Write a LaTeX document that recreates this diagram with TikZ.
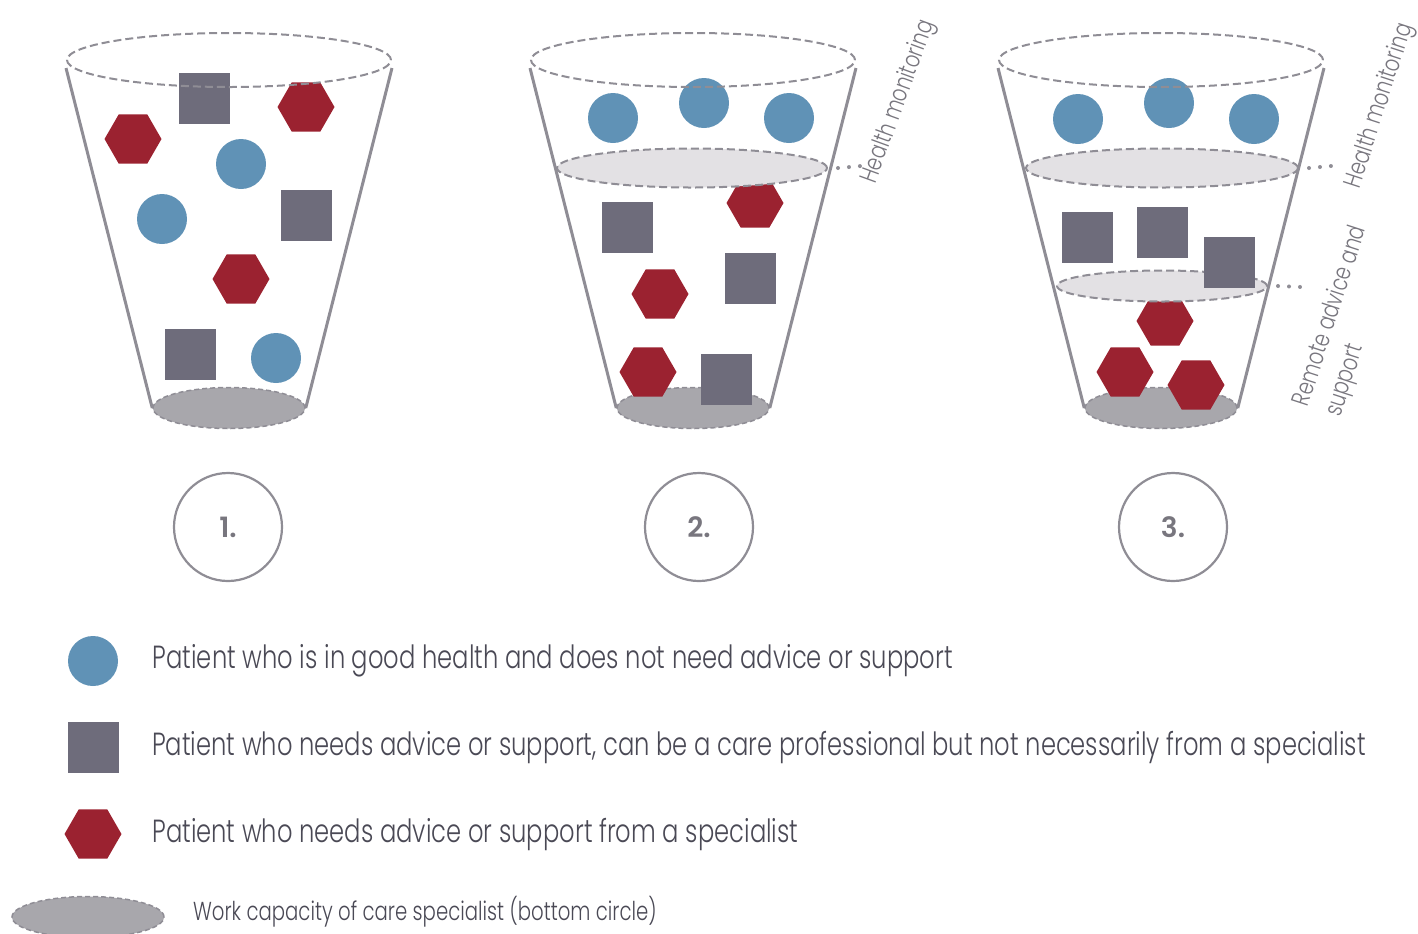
\documentclass[tikz,border=0pt]{standalone}
\usepackage{fontspec}
\setmainfont{Poppins Light}
\newfontfamily\numfont{Poppins SemiBold}
\usetikzlibrary{
  shapes.geometric,
  positioning,
  calc}
\definecolor{healthycolor}{RGB}{96,146,182}
\definecolor{advicecolor}{RGB}{110,108,123}
\definecolor{specialistcolor}{RGB}{155,34,48}
\definecolor{linecolor}{RGB}{143,141,149}
\definecolor{capacitycolor}{RGB}{168,167,172}
\definecolor{levelcolor}{RGB}{227,225,228}
\definecolor{textcolor}{RGB}{74,73,85}
\definecolor{labelcolor}{RGB}{120,118,126}
\newcommand{\squeeze}[1]{\scalebox{0.757}[1]{#1}}
\newcommand{\narrowlabel}[1]{\scalebox{0.77}[1]{#1}}
\tikzset{
  %% healthy : patient in good health
  healthy/.style={
    circle,
    fill=healthycolor,
    minimum size=25pt,
    inner sep=0pt
  },
  %% advice : patient who needs advice or support
  advice/.style={
    rectangle,
    fill=advicecolor,
    minimum size=25.5pt,
    inner sep=0pt
  },
  %% specialist : patient who needs a specialist
  specialist/.style={
    regular polygon,
    regular polygon sides=6,
    fill=specialistcolor,
    minimum size=28.5pt,
    inner sep=0pt
  },
  %% rim : open top of a cup
  rim/.style={
    ellipse,
    draw=linecolor,
    line width=1pt,
    dash pattern=on 4pt off 2pt,
    minimum width=162pt,
    minimum height=27pt,
    inner sep=0pt
  },
  %% level : level of care inside a cup
  level/.style={
    ellipse,
    fill=levelcolor,
    draw=linecolor,
    line width=1pt,
    dash pattern=on 4pt off 2pt,
    minimum height=19.5pt,
    inner sep=0pt
  },
  %% capacity : work capacity of the specialist (bottom circle)
  capacity/.style={
    ellipse,
    fill=capacitycolor,
    draw=linecolor,
    line width=0.75pt,
    dash pattern=on 2.5pt off 1.5pt,
    minimum width=76pt,
    minimum height=20.5pt,
    inner sep=0pt
  },
  %% side : wall of a cup
  side/.style={linecolor, line width=1.5pt},
  %% leader : dotted line to a level label
  leader/.style={linecolor, line width=2pt, line cap=round,
    dash pattern=on 0pt off 5.5pt},
  %% numcircle : number below a cup
  numcircle/.style={
    circle,
    draw=linecolor,
    line width=1.1pt,
    minimum size=54pt,
    text=labelcolor,
    font=\numfont\fontsize{14}{16}\selectfont
  },
  %% levellabel : rotated name of a level
  levellabel/.style={
    text=labelcolor,
    font=\fontsize{12.5}{17}\selectfont,
    inner sep=0pt,
    align=left
  },
  %% legendtext : text of the legend
  legendtext/.style={
    anchor=west,
    inner sep=0pt,
    text=textcolor,
    font=\fontsize{16}{19}\selectfont
  }
}

\begin{document}
\begin{tikzpicture}
  [x=0.5pt,
  y=-0.5pt]

  \useasboundingbox (0, 0) rectangle (1418, 933);

  %% Cup 1
  \node (bot1) [capacity] at (229, 408) {};
  \node (hexa1a) [specialist] at (306, 107) {};
  \node (hexa1b) [specialist] at (133, 139) {};
  \node (hexa1c) [specialist] at (241, 279) {};
  \node (sq1a) [advice] at (204, 98) {};
  \node (sq1b) [advice] at (306, 215) {};
  \node (sq1c) [advice] at (190, 354) {};
  \node (circ1a) [healthy] at (241, 164) {};
  \node (circ1b) [healthy] at (162, 219) {};
  \node (circ1c) [healthy] at (276, 358) {};
  \node (top1) [rim] at (229, 60) {};
  \draw [side] ([yshift=-4pt]top1.west) -- (bot1.west);
  \draw [side] ([yshift=-4pt]top1.east) -- (bot1.east);

  %% Cup 2
  \node (bot2) [capacity] at (693, 408) {};
  \node (hexa2a) [specialist] at (755, 203) {};
  \node (hexa2b) [specialist] at (660, 294) {};
  \node (hexa2c) [specialist] at (648, 372) {};
  \node (lvl2) [level, minimum width=135pt] at (692, 168) {};
  \node (sq2a) [advice] at (627, 227) {};
  \node (sq2b) [advice] at (750, 278) {};
  \node (sq2c) [advice] at (726, 379) {};
  \node (circ2a) [healthy] at (613, 118) {};
  \node (circ2b) [healthy] at (704, 103) {};
  \node (circ2c) [healthy] at (789, 118) {};
  \node (top2) [rim] at (693, 60) {};
  \draw [side] ([yshift=-4pt]top2.west) -- (bot2.west);
  \draw [side] ([yshift=-4pt]top2.east) -- (bot2.east);

  \coordinate (dot2) at (861, 166);
  \draw [leader] ([xshift=5pt]lvl2.east) -- (dot2);
  \node (health2) [levellabel, rotate=70] at (899, 102) {%
    \narrowlabel{Health monitoring}};

  %% Cup 3
  \node (bot3) [capacity] at (1161, 408) {};
  \node (hexa3a) [specialist] at (1165, 321) {};
  \node (hexa3b) [specialist] at (1125, 372) {};
  \node (hexa3c) [specialist] at (1196, 385) {};
  \node (lvl3a) [level, minimum width=136pt] at (1162, 168) {};
  \node (lvl3b) [level, minimum width=105pt, minimum height=15.5pt] at (1162, 286) {};
  \node (sq3a) [advice] at (1087, 237) {};
  \node (sq3b) [advice] at (1162, 232) {};
  \node (sq3c) [advice] at (1229, 262) {};
  \node (circ3a) [healthy] at (1078, 119) {};
  \node (circ3b) [healthy] at (1169, 103) {};
  \node (circ3c) [healthy] at (1254, 119) {};
  \node (top3) [rim] at (1161, 60) {};
  \draw [side] ([yshift=-4pt]top3.west) -- (bot3.west);
  \draw [side] ([yshift=-4pt]top3.east) -- (bot3.east);

  \coordinate (dot3a) at (1331, 166);
  \draw [leader] ([xshift=5pt]lvl3a.east) -- (dot3a);
  \coordinate (dot3b) at (1301, 287);
  \draw [leader] ([xshift=5pt]lvl3b.east) -- (dot3b);
  \node (health3) [levellabel, rotate=72] at (1380, 106) {%
    \narrowlabel{Health monitoring}};
  \node (remote3) [levellabel, rotate=72, anchor=west] at (1318, 411) {%
    \narrowlabel{Remote advice and}\\\narrowlabel{support}
  };

  %% Numbers
  \node (num1) [numcircle] at (228, 527) {1.};
  \node (num2) [numcircle] at (699, 527) {2.};
  \node (num3) [numcircle] at (1173, 527) {3.};

  %% Legend
  \node (leg1) [healthy] at (93, 661) {};
  \node (legtext1) [legendtext, right=17pt of leg1] {%
    \squeeze{Patient who is in good health and does not need advice or support}};

  \node (leg2) [advice] at (93, 747) {};
  \node (legtext2) [legendtext, right=16.5pt of leg2] {%
    \squeeze{Patient who needs advice or support, can be a care professional but not necessarily from a specialist}};

  \node (leg3) [specialist] at (93, 834) {};
  \node (legtext3) [legendtext, right=15pt of leg3] {%
    \squeeze{Patient who needs advice or support from a specialist}};

  \node (leg4) [capacity] at (88, 917) {};
  \node (legtext4) [legendtext, right=14pt of leg4, yshift=2.5pt,
    font=\fontsize{13}{15}\selectfont] {%
    \squeeze{Work capacity of care specialist (bottom circle)}};

\end{tikzpicture}
\end{document}
